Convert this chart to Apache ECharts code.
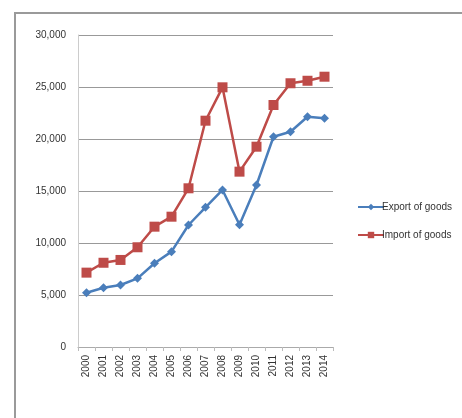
<!DOCTYPE html>
<html><head><meta charset="utf-8">
<script src="https://cdn.jsdelivr.net/npm/echarts@6/dist/echarts.min.js"></script>
<style>html,body{margin:0;padding:0;background:#fff}#c{width:462px;height:418px}</style>
</head><body><div id="c"></div>
<script>
var years = ['2000','2001','2002','2003','2004','2005','2006','2007','2008','2009','2010','2011','2012','2013','2014'];
var exportGoods = [5220,5700,5960,6600,8050,9170,11730,13430,15100,11750,15580,20220,20700,22140,21990];
var importGoods = [7150,8100,8370,9590,11570,12530,15260,21760,24970,16860,19260,23270,25360,25600,25990];
var yTicks = {min:0, max:30000, interval:5000};
var FONT = '"Liberation Sans Narrow","Liberation Sans",sans-serif';
var chart = echarts.init(document.getElementById('c'));
chart.setOption({
  animation:false,
  backgroundColor:'#fff',
  graphic:[{type:'rect',shape:{x:15,y:13,width:460,height:420},style:{fill:'none',stroke:'#9a9a9a',lineWidth:2}}],
  grid:{left:78,right:129,top:35,bottom:71},
  legend:{orient:'vertical',left:352,top:197,itemGap:18,itemWidth:26,itemHeight:8,
    textStyle:{fontFamily:FONT,fontSize:10,color:'#333',padding:[0,0,0,-7]},
    data:['Export of goods','Import of goods']},
  xAxis:{type:'category',data:years,boundaryGap:true,
    axisLine:{lineStyle:{color:'#aaa'}},axisTick:{show:true,length:4,lineStyle:{color:'#bbb'}},
    axisLabel:{rotate:90,interval:0,fontFamily:FONT,fontSize:10,color:'#333',margin:8}},
  yAxis:{type:'value',min:yTicks.min,max:yTicks.max,interval:yTicks.interval,
    axisLine:{show:true,lineStyle:{color:'#ccc'}},axisTick:{show:false},
    splitLine:{lineStyle:{color:'#999'}},
    axisLabel:{fontFamily:FONT,fontSize:10,color:'#333',margin:12,
      formatter:function(v){return v.toLocaleString('en-US');}}},
  series:[
    {name:'Export of goods',type:'line',data:exportGoods,symbol:'diamond',symbolSize:9,
      itemStyle:{color:'#4a7ebb'},lineStyle:{color:'#4a7ebb',width:2.5}},
    {name:'Import of goods',type:'line',data:importGoods,symbol:'rect',symbolSize:10,
      itemStyle:{color:'#be4b48'},lineStyle:{color:'#be4b48',width:2.5}}
  ]
});
</script></body></html>
